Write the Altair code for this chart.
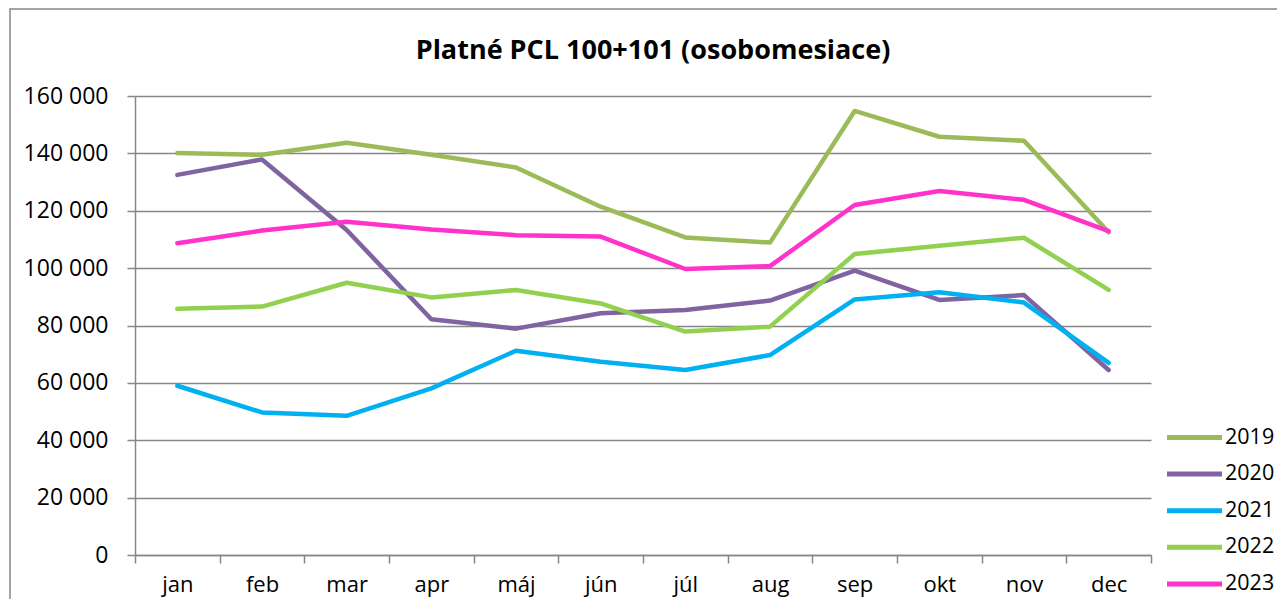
import altair as alt
import pandas as pd

months = ["jan", "feb", "mar", "apr", "máj", "jún", "júl", "aug", "sep", "okt", "nov", "dec"]
years = ["2019", "2020", "2021", "2022", "2023"]
v2019 = [140100, 139500, 143700, 139500, 135100, 121400, 110700, 108900, 154800, 145800, 144400, 112500]
v2020 = [132500, 137900, 113300, 82200, 78900, 84300, 85400, 88700, 99100, 88900, 90600, 64500]
v2021 = [59000, 49700, 48500, 58100, 71200, 67400, 64500, 69700, 89100, 91600, 88000, 67000]
v2022 = [85800, 86600, 94900, 89800, 92400, 87700, 77900, 79600, 104900, 107800, 110600, 92400]
v2023 = [108700, 113100, 116200, 113500, 111500, 111000, 99700, 100700, 122000, 126900, 123800, 112900]
colors = ["#9BBB59", "#8064A2", "#00B0F0", "#92D050", "#FF33CC"]
y_ticks = [0, 20000, 40000, 60000, 80000, 100000, 120000, 140000, 160000]
title_text = "Platné PCL 100+101 (osobomesiace)"

series = [v2019, v2020, v2021, v2022, v2023]
rows = []
for yr, vals in zip(years, series):
    for m, v in zip(months, vals):
        rows.append({"mesiac": m, "rok": yr, "hodnota": v})
df = pd.DataFrame(rows)

FONT = "Open Sans"
GRAY = "#878787"

lines = alt.Chart(df).mark_line(strokeWidth=4.5, strokeCap="round", strokeJoin="round").encode(
    x=alt.X("mesiac:N", sort=months, title=None,
            scale=alt.Scale(type="band", paddingInner=0, paddingOuter=0),
            axis=alt.Axis(tickBand="extent", labelAngle=0, grid=False, domainColor=GRAY,
                          domainWidth=1.5, tickColor=GRAY, tickWidth=1.5, tickSize=8,
                          labelPadding=11, labelFontSize=22, labelFont=FONT,
                          labelColor="#000000")),
    y=alt.Y("hodnota:Q", title=None,
            scale=alt.Scale(domain=[0, 160000], nice=False),
            axis=alt.Axis(values=y_ticks, labelExpr="replace(format(datum.value, ','), ',', ' ')",
                          grid=True, gridColor=GRAY, gridWidth=1.5, domainColor=GRAY,
                          domainWidth=1.5, tickColor=GRAY, tickWidth=1.5, tickSize=8,
                          labelPadding=19, labelFontSize=23, labelFont=FONT,
                          labelColor="#000000")),
    color=alt.Color("rok:N", scale=alt.Scale(domain=years, range=colors), title=None,
                    legend=alt.Legend(orient="none", legendX=1043, legendY=325, padding=0,
                                      symbolType="M-2,0H2", symbolSize=756,
                                      symbolStrokeWidth=5, labelFontSize=21.5,
                                      labelFont=FONT, labelColor="#000000",
                                      labelOffset=14, rowPadding=9.6)),
)

border = alt.Chart(pd.DataFrame({"a": [0]})).mark_rect(
    filled=False, stroke=GRAY, strokeWidth=1.5
).encode(
    x=alt.value(-125), x2=alt.value(1300), y=alt.value(-87), y2=alt.value(700)
)

title = alt.Chart(pd.DataFrame({"t": [title_text]})).mark_text(
    font=FONT, fontSize=27, fontWeight="bold", color="#000000",
    align="center", baseline="alphabetic"
).encode(
    text="t:N", x=alt.value(518), y=alt.value(-37)
)

chart = alt.layer(lines, border, title).properties(
    width=1016, height=459,
    autosize=alt.AutoSizeParams(type="none"),
    padding={"left": 127, "top": 88, "right": 126, "bottom": 44},
).configure_view(stroke=None)

chart.save("out.html", embed_options={"renderer": "svg", "actions": False})
